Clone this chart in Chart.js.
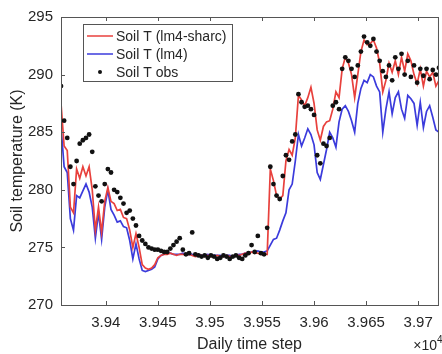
<!DOCTYPE html>
<html lang="en">
<head>
  <meta charset="UTF-8" />
  <title>Soil temperature</title>
  <script src="https://cdn.jsdelivr.net/npm/chart.js"></script>
  <style>
    html, body { margin: 0; padding: 0; background: #fff; }
    #wrap { width: 442px; height: 354px; }
  </style>
</head>
<body>
  <div id="wrap"><canvas id="chart" width="442" height="354"></canvas></div>

  <script>
    // daily time step (every third day)
    const days = [
      39357, 39360, 39363, 39366, 39369, 39372, 39375, 39378, 39381, 39384,
      39387, 39390, 39393, 39396, 39399, 39402, 39405, 39408, 39411, 39414,
      39417, 39420, 39423, 39426, 39429, 39432, 39435, 39438, 39441, 39444,
      39447, 39450, 39453, 39456, 39459, 39462, 39465, 39468, 39471, 39474,
      39477, 39480, 39483, 39486, 39489, 39492, 39495, 39498, 39501, 39504,
      39507, 39510, 39513, 39516, 39519, 39522, 39525, 39528, 39531, 39534,
      39537, 39540, 39543, 39546, 39549, 39552, 39555, 39558, 39561, 39564,
      39567, 39570, 39573, 39576, 39579, 39582, 39585, 39588, 39591, 39594,
      39597, 39600, 39603, 39606, 39609, 39612, 39615, 39618, 39621, 39624,
      39627, 39630, 39633, 39636, 39639, 39642, 39645, 39648, 39651, 39654,
      39657, 39660, 39663, 39666, 39669, 39672, 39675, 39678, 39681, 39684,
      39687, 39690, 39693, 39696, 39699, 39702, 39705, 39708, 39711, 39714,
      39717, 39720
    ];

    const sharcT = [
      287.5, 283.8, 283.4, 278.5, 278.0, 281.8, 281.0, 282.0, 281.2, 282.0,
      280.0, 276.5, 278.5, 276.3, 279.0, 280.2, 279.0, 278.8, 278.2, 278.3,
      277.6, 277.5, 276.5, 275.0, 276.2, 275.0, 273.5, 273.2, 273.1, 273.2,
      273.5, 274.1, 274.3, 274.4, 274.4, 274.5, 274.4, 274.3, 274.4, 274.4,
      274.3, 274.4, 274.3, 274.2, 274.3, 274.3, 274.2, 274.3, 274.2, 274.2,
      274.3, 274.2, 274.2, 274.3, 274.2, 274.2, 274.3, 274.3, 274.4, 274.5,
      274.4, 274.6, 274.5, 274.5, 274.4, 274.4, 274.4, 281.8, 280.8, 279.5,
      279.2, 279.5, 282.5, 283.5, 283.0, 284.5, 288.2, 287.8, 287.3, 288.0,
      288.9, 287.5, 285.2, 284.3, 285.5, 285.9, 286.0, 287.0, 288.5, 288.0,
      290.5, 291.5, 291.0, 290.0, 288.0, 290.0, 292.0, 293.0, 292.6, 292.7,
      293.0, 292.3, 291.0, 288.5, 289.5, 291.0, 290.2, 291.2, 290.0, 291.5,
      290.3, 291.8, 291.2, 290.0, 289.2, 290.5, 289.0, 290.3, 289.8, 290.2,
      289.0, 289.5
    ];

    const lm4T = [
      285.5, 282.0, 281.5, 277.5, 276.5, 279.5, 279.3, 279.9, 280.5, 279.8,
      278.5, 275.8, 278.0, 275.7, 278.5, 280.0, 278.3, 277.8, 277.2, 277.3,
      276.8, 276.7, 275.6, 274.0, 275.3, 274.0, 273.0, 272.9, 273.0, 273.1,
      273.3, 274.0, 274.3, 274.4, 274.5, 274.5, 274.4, 274.4, 274.4, 274.5,
      274.4, 274.4, 274.4, 274.3, 274.4, 274.3, 274.3, 274.4, 274.3, 274.3,
      274.3, 274.3, 274.2, 274.3, 274.3, 274.2, 274.3, 274.4, 274.4, 274.5,
      274.5, 274.6, 274.6, 274.7, 274.6, 274.6, 274.7, 275.2, 275.7, 275.8,
      276.5, 277.3, 278.0, 280.0, 280.5, 282.5, 284.8, 283.8, 284.5, 285.3,
      284.8, 283.9, 281.5, 280.9, 282.2, 283.5, 285.0, 284.5, 283.7, 285.9,
      287.0, 287.3, 286.8, 286.0, 285.0, 287.5, 288.8, 289.5, 289.3, 290.0,
      289.8, 289.0, 288.5, 285.0, 287.0, 288.5, 286.6, 288.0, 288.5, 287.0,
      286.2, 288.2, 287.9, 287.5, 285.6, 287.6, 285.4, 286.8, 287.3, 286.3,
      285.2, 285.0
    ];

    const obsT = [
      289.0, 286.0, 284.5, 282.0, 280.5, 282.5, 284.0, 284.3, 284.5, 284.8,
      283.3, 280.3, 279.5, 279.0, 280.5, 281.8, 281.5, 280.0, 279.8, 279.3,
      278.8, 278.0, 278.2, 277.5, 276.9, 276.0, 275.6, 275.3, 275.0, 274.9,
      274.8, 274.8, 274.7, 274.6, 274.6, 274.9, 275.2, 275.5, 275.8, 274.8,
      274.4, 274.5, 276.3, 274.4, 274.3, 274.2, 274.3, 274.1, 274.3, 274.2,
      274.0, 274.1, 274.3, 274.2, 274.0, 274.2, 274.3, 274.1, 274.0, 274.3,
      274.5, 275.2, 274.6, 276.0, 274.5, 274.4, 276.7, 282.0, 280.5, 279.5,
      279.2, 281.2, 283.0, 282.6, 284.2, 284.8, 288.3, 287.6, 287.2, 287.3,
      287.0, 286.5, 283.0, 282.3, 284.0, 283.8, 284.5, 287.3, 287.6, 287.0,
      290.5, 291.5, 291.2, 290.5, 289.8, 290.8, 292.0, 293.3, 292.8, 292.5,
      293.1, 292.0, 291.2, 290.3, 289.8, 290.8, 289.5, 291.5, 290.5, 291.8,
      290.0, 291.2, 289.8, 290.8, 289.3, 290.5, 289.9, 290.5, 289.6, 290.4,
      290.0, 290.6
    ];

    const seriesLabels = ['Soil T (lm4-sharc)', 'Soil T (lm4)', 'Soil T obs'];
    const xTickValues = [39400, 39450, 39500, 39550, 39600, 39650, 39700];
    const xTickLabels = ['3.94', '3.945', '3.95', '3.955', '3.96', '3.965', '3.97'];
    const yTickLabels = ['270', '275', '280', '285', '290', '295'];

    const FONT = '"Liberation Sans", Arial, Helvetica, sans-serif';
    const TEXT = '#262626';
    const AXIS = '#555555';

    const pts = vals => days.map((d, i) => ({ x: d, y: vals[i] }));

    // box + inward ticks + exponent label, matlab style
    const framePlugin = {
      id: 'frame',
      afterDraw(chart) {
        const { ctx, chartArea: a, scales: { x, y } } = chart;
        ctx.save();
        ctx.strokeStyle = AXIS;
        ctx.lineWidth = 1;
        ctx.strokeRect(a.left + 0.5, a.top + 0.5, a.right - a.left, a.bottom - a.top);
        ctx.beginPath();
        x.ticks.forEach(t => {
          const px = Math.round(x.getPixelForValue(t.value)) + 0.5;
          ctx.moveTo(px, a.bottom); ctx.lineTo(px, a.bottom - 4);
          ctx.moveTo(px, a.top); ctx.lineTo(px, a.top + 4);
        });
        y.ticks.forEach(t => {
          const py = Math.round(y.getPixelForValue(t.value)) + 0.5;
          ctx.moveTo(a.left, py); ctx.lineTo(a.left + 4, py);
        });
        ctx.stroke();

        ctx.fillStyle = TEXT;
        ctx.textAlign = 'right';
        ctx.textBaseline = 'alphabetic';
        ctx.font = '14px ' + FONT;
        ctx.fillText('\u00d710', 437, 350);
        ctx.textAlign = 'left';
        ctx.font = '10px ' + FONT;
        ctx.fillText('4', 437, 343);
        ctx.restore();
      }
    };

    // legend box in the upper left of the axes
    const boxLegend = {
      id: 'boxLegend',
      afterDraw(chart) {
        const { ctx, chartArea: a } = chart;
        const bx = a.left + 22, by = a.top + 7, bw = 149, bh = 57;
        ctx.save();
        ctx.fillStyle = '#fff';
        ctx.fillRect(bx, by, bw, bh);
        ctx.strokeStyle = AXIS;
        ctx.lineWidth = 1;
        ctx.strokeRect(bx + 0.5, by + 0.5, bw, bh);
        ctx.font = '14px ' + FONT;
        ctx.textBaseline = 'middle';
        ctx.textAlign = 'left';
        chart.data.datasets.forEach((ds, i) => {
          const cy = by + 12 + i * 18;
          if (ds.showLine === false) {
            ctx.fillStyle = ds.pointBackgroundColor;
            ctx.beginPath();
            ctx.arc(bx + 17, cy, 2, 0, Math.PI * 2);
            ctx.fill();
          } else {
            ctx.strokeStyle = ds.borderColor;
            ctx.lineWidth = 1.5;
            ctx.beginPath();
            ctx.moveTo(bx + 4, cy); ctx.lineTo(bx + 30, cy);
            ctx.stroke();
          }
          ctx.fillStyle = TEXT;
          ctx.fillText(ds.label, bx + 33, cy + 1);
        });
        ctx.restore();
      }
    };

    const ctx = document.getElementById('chart').getContext('2d');
    new Chart(ctx, {
      type: 'line',
      data: {
        datasets: [
          {
            label: seriesLabels[0], data: pts(sharcT), order: 1,
            borderColor: '#e8413d', borderWidth: 1.7, pointRadius: 0, tension: 0
          },
          {
            label: seriesLabels[1], data: pts(lm4T), order: 2,
            borderColor: '#3b3bdc', borderWidth: 1.7, pointRadius: 0, tension: 0
          },
          {
            label: seriesLabels[2], data: pts(obsT), order: 0, showLine: false,
            pointRadius: 2.4, pointBorderWidth: 0,
            pointBackgroundColor: '#111111', borderColor: '#111111'
          }
        ]
      },
      options: {
        responsive: false,
        animation: false,
        layout: { padding: { top: 14, right: 0, bottom: 0, left: 0 } },
        plugins: { legend: { display: false }, tooltip: { enabled: false } },
        scales: {
          x: {
            type: 'linear',
            min: 39357,
            max: 39719,
            afterBuildTicks: s => { s.ticks = xTickValues.map(v => ({ value: v })); },
            afterFit: s => { s.height = 49; },
            ticks: {
              autoSkip: false, maxRotation: 0, padding: 9,
              color: TEXT, font: { family: FONT, size: 15 },
              callback: v => xTickLabels[xTickValues.indexOf(v)]
            },
            grid: { display: false, drawTicks: false },
            border: { display: false },
            title: {
              display: true, text: 'Daily time step', color: TEXT,
              font: { family: FONT, size: 16 }, padding: { top: 0, bottom: 0 }
            }
          },
          y: {
            min: 270,
            max: 295,
            afterFit: s => { s.width = 61; },
            ticks: {
              stepSize: 5, padding: 8,
              color: TEXT, font: { family: FONT, size: 15 },
              callback: (v, i) => yTickLabels[i]
            },
            grid: { display: false, drawTicks: false },
            border: { display: false },
            title: {
              display: true, text: 'Soil temperature (K)', color: TEXT,
              font: { family: FONT, size: 16 }, padding: { top: 8, bottom: 0 }
            }
          }
        }
      },
      plugins: [framePlugin, boxLegend]
    });
  </script>
</body>
</html>
